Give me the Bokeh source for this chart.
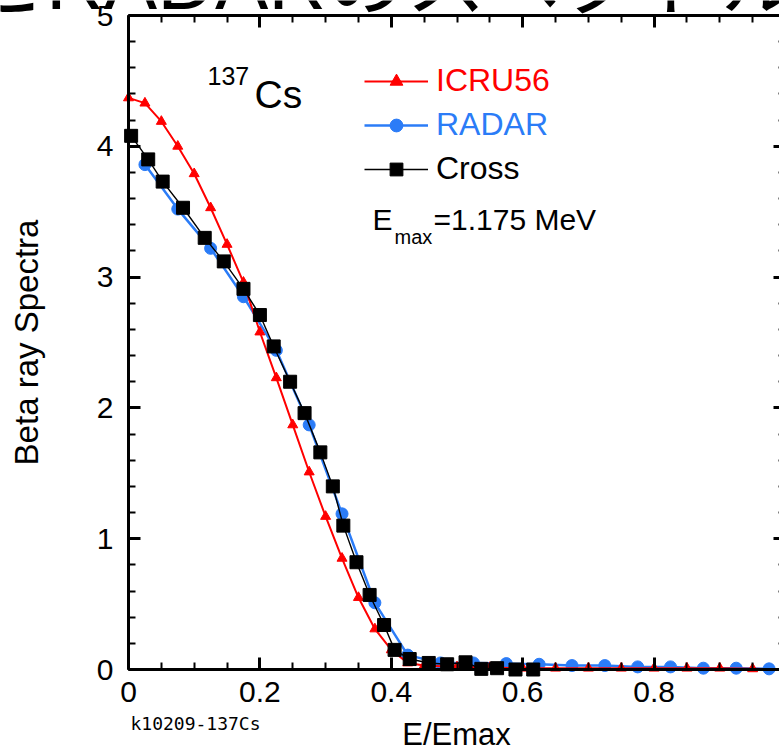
import math
from bokeh.plotting import figure
from bokeh.models import (LinearAxis, SingleIntervalTicker, Label, Legend, LegendItem,
                          Range1d, NumeralTickFormatter, CustomJSTickFormatter)
from bokeh.embed import file_html
from bokeh.resources import INLINE

# ---------------- data ----------------
icru_x = [0.0, 0.025, 0.05, 0.075, 0.1, 0.125, 0.15, 0.175, 0.2, 0.225, 0.25, 0.275,
          0.3, 0.325, 0.35, 0.375, 0.4, 0.425, 0.45, 0.5, 0.55, 0.6, 0.65, 0.7, 0.75,
          0.8, 0.85, 0.9, 0.95, 1.0]
icru_y = [4.37, 4.33, 4.19, 4.00, 3.79, 3.53, 3.25, 2.96, 2.58, 2.23, 1.87, 1.51,
          1.17, 0.85, 0.55, 0.31, 0.15, 0.05, 0.03, 0.02, 0.015, 0.01, 0.01, 0.01, 0.01,
          0.01, 0.01, 0.01, 0.005, 0.0]

radar_x = [0.025, 0.075, 0.125, 0.175, 0.225, 0.275, 0.325, 0.375, 0.425, 0.475,
           0.525, 0.575, 0.625, 0.675, 0.725, 0.775, 0.825, 0.875, 0.925, 0.975]
radar_y = [3.86, 3.52, 3.22, 2.85, 2.44, 1.87, 1.19, 0.51, 0.11, 0.05,
           0.05, 0.045, 0.04, 0.03, 0.03, 0.02, 0.02, 0.01, 0.01, 0.005]

cross_x = [0.004, 0.03, 0.052, 0.083, 0.116, 0.145, 0.175, 0.2, 0.221, 0.246, 0.268,
           0.292, 0.311, 0.327, 0.347, 0.367, 0.389, 0.405, 0.428, 0.457, 0.485, 0.513,
           0.537, 0.561, 0.589, 0.616]
cross_y = [4.08, 3.90, 3.73, 3.53, 3.30, 3.12, 2.91, 2.71, 2.47, 2.20, 1.96,
           1.66, 1.40, 1.10, 0.82, 0.57, 0.34, 0.15, 0.08, 0.05, 0.04, 0.055,
           0.005, 0.01, 0.0, 0.0]

series_names = ["ICRU56", "RADAR", "Cross"]
x_label = "E/Emax"
y_label = "Beta ray Spectra"
nuclide_mass = "137"
nuclide_sym = "Cs"
emax_main = "E"
emax_sub = "max"
emax_value = "=1.175 MeV"
file_tag = "k10209-137Cs"
slide_title = "ICRU56とRADARのスペクトル"

# ---------------- geometry ----------------
W, H = 779, 749
X0_PX, PX_PER_X = 128, 657.0      # canvas x of E/Emax = 0, pixels per unit
Y0_PX, PX_PER_Y = 669, 130.8      # canvas y of spectrum = 0, pixels per unit


def dx(px):
    return (px - X0_PX) / PX_PER_X


def dy(py):
    return (Y0_PX - py) / PX_PER_Y


FONT = "Liberation Sans"
RED = "#ff0000"
BLUE = "#2b7cf7"
BLACK = "#000000"

p = figure(width=W, height=H, output_backend="svg", toolbar_location=None,
           x_range=Range1d(dx(0), dx(W)), y_range=Range1d(dy(H), dy(0)),
           min_border_left=0, min_border_right=0, min_border_top=0,
           min_border_bottom=0, x_axis_location=None, y_axis_location=None)
p.grid.visible = False
p.outline_line_color = None
p.background_fill_color = "white"
p.border_fill_color = "white"


def style_axis(ax, show_labels=True):
    ax.axis_line_width = 3
    ax.axis_line_color = "black"
    ax.major_tick_line_width = 3
    ax.minor_tick_line_width = 2
    ax.major_tick_in = 12
    ax.major_tick_out = 0
    ax.minor_tick_in = 7
    ax.minor_tick_out = 0
    ax.major_label_text_font = FONT
    ax.major_label_text_color = "black"
    if show_labels:
        ax.major_label_text_font_size = "30px"
    else:
        ax.major_label_text_font_size = "0px"
        ax.major_label_standoff = 0
        ax.formatter = CustomJSTickFormatter(code="return ''")


xb = LinearAxis(ticker=SingleIntervalTicker(interval=0.2, num_minor_ticks=4),
                formatter=NumeralTickFormatter(format="0.[0]"),
                fixed_location=0, bounds=(0, 1))
style_axis(xb)
xb.major_label_standoff = 12
p.add_layout(xb, "below")

xt = LinearAxis(ticker=SingleIntervalTicker(interval=0.2, num_minor_ticks=4),
                fixed_location=5, bounds=(0, 1))
style_axis(xt, show_labels=False)
p.add_layout(xt, "above")

yl = LinearAxis(ticker=SingleIntervalTicker(interval=1, num_minor_ticks=5),
                formatter=NumeralTickFormatter(format="0"),
                fixed_location=0, bounds=(0, 5))
style_axis(yl)
yl.major_label_standoff = 15
yl.axis_label = y_label
yl.axis_label_text_font = FONT
yl.axis_label_text_font_size = "33px"
yl.axis_label_text_font_style = "normal"
yl.axis_label_text_color = "black"
yl.axis_label_standoff = 49
p.add_layout(yl, "left")

yr = LinearAxis(ticker=SingleIntervalTicker(interval=1, num_minor_ticks=5),
                fixed_location=1, bounds=(0, 5))
style_axis(yr, show_labels=False)
p.add_layout(yr, "right")

# ---------------- series ----------------
b_line = p.line(radar_x, radar_y, line_color=BLUE, line_width=2.5)
b_pts = p.scatter(radar_x, radar_y, marker="circle", size=12, fill_color=BLUE, line_color=BLUE)
r_line = p.line(icru_x, icru_y, line_color=RED, line_width=2)
r_pts = p.scatter(icru_x, icru_y, marker="triangle", size=10, fill_color=RED, line_color=RED)
k_line = p.line(cross_x, cross_y, line_color=BLACK, line_width=1.4)
k_pts = p.scatter(cross_x, cross_y, marker="square", size=13, fill_color=BLACK, line_color=BLACK)

# legend rows centred at canvas y = 80, 124, 168; sample lines start at x = 364
legend_specs = [
    ([r_line, r_pts], series_names[0], RED, 80),
    ([b_line, b_pts], series_names[1], BLUE, 124),
    ([k_line, k_pts], series_names[2], BLACK, 168),
]
for rends, lab, col, row_y in legend_specs:
    leg = Legend(items=[LegendItem(label=lab, renderers=rends)],
                 location=(364, H - row_y - 16 - 3),
                 border_line_color=None, background_fill_alpha=0, padding=0, margin=0,
                 spacing=0, glyph_width=64, glyph_height=32, label_height=32,
                 label_standoff=8, label_text_font=FONT, label_text_font_size="32px",
                 label_text_color=col)
    p.add_layout(leg)

# ---------------- annotations ----------------
def add_text(text, px, base_py, size, font=FONT, align="left", color="black", shift=0.37):
    # Bokeh puts the alphabetic baseline about `shift` em below the anchor here
    anchor_py = base_py - shift * size
    p.add_layout(Label(x=dx(px), y=dy(anchor_py), text=text, text_font=font,
                       text_font_size=f"{size}px", text_align=align,
                       text_baseline="alphabetic", text_color=color))


add_text(nuclide_mass, 207, 85, 25)
add_text(nuclide_sym, 254, 108, 39)
add_text(emax_main, 372, 230, 30)
add_text(emax_sub, 394, 244, 20)
add_text(emax_value, 433, 230, 30)
add_text(file_tag, 130, 730, 18, font="DejaVu Sans Mono")
add_text(x_label, 456, 745, 31, align="center")
# slide title of the source page: only the bottom of its glyphs shows at the top edge
add_text(slide_title, -319, 11, 80, font="Liberation Sans, Noto Sans CJK JP")

open("out.html", "w").write(file_html(p, INLINE))
